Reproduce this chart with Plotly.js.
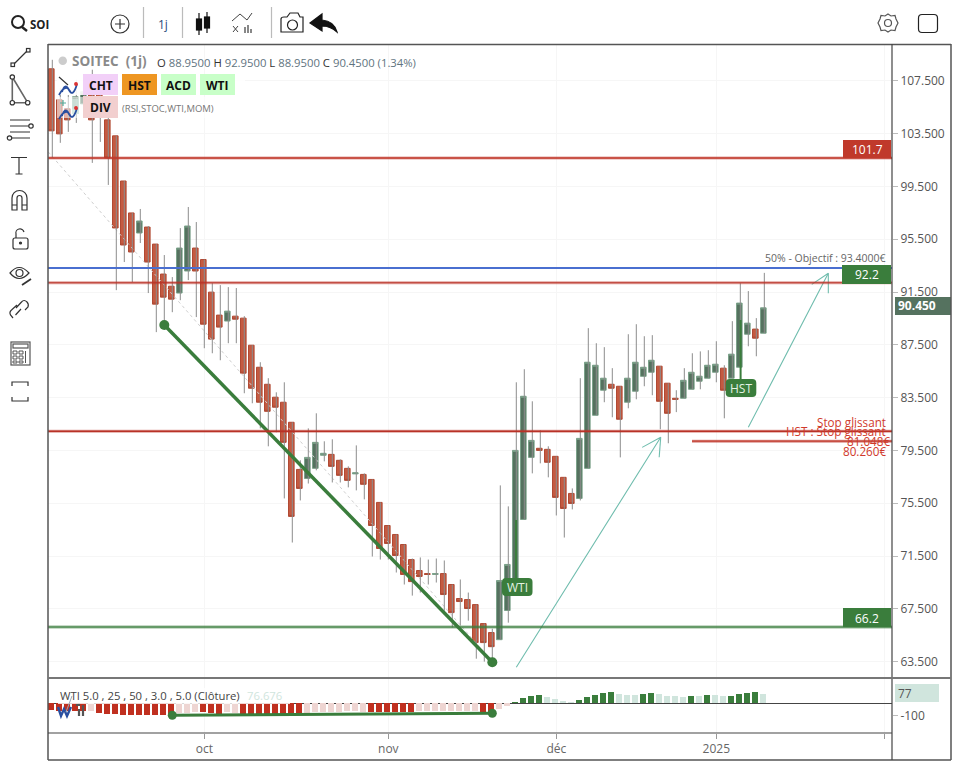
<!DOCTYPE html>
<html><head><meta charset="utf-8">
<script src="https://cdn.plot.ly/plotly-3.0.1.min.js"></script>
<style>html,body{margin:0;padding:0;background:#fff;overflow:hidden}#chart{position:absolute;left:0;top:0;width:958px;height:765px}#icons{position:absolute;left:0;top:0;pointer-events:none}</style>
</head><body>
<div id="chart"></div>
<svg id="icons" width="958" height="765" fill="none" stroke="#333" stroke-width="1.2">
<!-- top toolbar -->
<circle cx="18" cy="22" r="6" stroke-width="2" stroke="#222"/><path d="M22 27 L27 31" stroke-width="2.4" stroke="#222"/>
<circle cx="120" cy="24" r="9"/><path d="M115 24H125M120 19V29"/>
<path d="M143.500 7V38M182.500 7V38M271.500 7V38" stroke="#bbb"/>
<path d="M199 13V35M207 12V33" stroke="#111"/><rect x="196.500" y="19" width="5" height="11" fill="#111" stroke="#111"/><rect x="204.500" y="17" width="5" height="11" fill="#111" stroke="#111"/>
<path d="M232 21L240 14L247 20L252 13M233 26L238 32M238 26L233 32" stroke="#444" stroke-width="1"/><path d="M245 33V27M248 33V25M251 33V29" stroke="#888" stroke-width="2"/>
<path d="M284 17H287L290 13H298L300 17H303V32H281V19Q281 17 284 17Z" stroke="#222"/><circle cx="292.500" cy="25" r="5" stroke="#222"/>
<path d="M310 23L322 14V20Q334 21 337 32Q330 26 322 26V31Z" fill="#111" stroke="#111"/>
<circle cx="888" cy="23" r="3.500" stroke="#555"/><path d="M888 14L891 16L895 15.500L896 19L898 23L896 27L895 30.500L891 30L888 32L885 30L881 30.500L880 27L878 23L880 19L881 15.500L885 16Z" stroke="#555"/>
<rect x="918.500" y="14.500" width="19" height="18" rx="3.500" stroke="#222"/>
<!-- left toolbar -->
<path d="M13 65L28 50"/><rect x="11" y="63" width="3.500" height="3.500" fill="#fff"/><rect x="26.500" y="48.500" width="3.500" height="3.500" fill="#fff"/>
<path d="M12.300 77V102.700H27.700Z" stroke="#666" stroke-width="1.600"/><circle cx="12.300" cy="77" r="2.200" fill="#fff"/><circle cx="12.300" cy="102.700" r="2.200" fill="#fff"/><circle cx="27.700" cy="102.700" r="2.200" fill="#fff"/>
<path d="M10 120H30M10 126H29M10 132H30M12 138H30"/><circle cx="31" cy="126" r="2.200" fill="#fff"/><circle cx="9.500" cy="138" r="2.200" fill="#fff"/>
<path d="M11 157.500H27M19 157.500V174M15.500 174H22.500"/>
<path d="M12 210V198A7.500 7.500 0 0 1 27 198V210H22V198A2.500 2.500 0 0 0 17 198V210ZM12 205H17M22 205H27"/>
<rect x="13" y="238" width="15" height="11" rx="2"/><path d="M16 238V234A4 4 0 0 1 24 232"/><circle cx="20.500" cy="243" r="1" fill="#333"/>
<path d="M10 273Q19 262 29 273Q19 284 10 273Z"/><circle cx="19.500" cy="273" r="3.500"/><path d="M22 285L31 279" stroke-width="1.800"/>
<path d="M13 318L10.500 315Q9 312 11.500 310L17 305M21 309L15.500 315M25 310L28 307Q29 304 27 302Q24 299 21.500 302L16 308" />
<rect x="11" y="342" width="19" height="23" stroke="#555"/><rect x="13" y="344" width="15" height="4" stroke="#555"/><path d="M13 351H17V354H13ZM19 351H23V354H19ZM13 356H17V359H13ZM19 356H23V359H19ZM13 361H17V363H13ZM19 361H23V363H19ZM25.500 351V363" stroke="#555" stroke-width="1"/>
<path d="M12 386V382H28V386M12 397V401H28V397" stroke="#333"/>
<!-- legend icons -->
<g stroke-width="1.200"><path d="M59 77L68 85" stroke="#333"/><path d="M62 92Q65 82 69 90T77 84M59 95Q66 82 71 93" stroke="#2a4fa0" stroke-width="1.800"/><circle cx="76" cy="84" r="1.300" fill="#d33" stroke="#d33"/>
<rect x="72" y="99" width="7" height="15" fill="#d0e5dd" stroke="none" opacity=".8"/>
<path d="M63 100V106M60 103H66" stroke="#5a9" /><path d="M62 116Q65 106 69 114T77 108M59 119Q66 106 71 117" stroke="#2a4fa0" stroke-width="1.800"/><circle cx="76" cy="108" r="1.300" fill="#d33" stroke="#d33"/></g>
<!-- indicator icon -->
<path d="M58 707L61 716L64 709L67 716L71 707" stroke="#2a4fa0" stroke-width="2.400"/><path d="M66 712L72 696" stroke="#9ab" stroke-width="1"/><path d="M76 705H80M79 709V716M83 705V716" stroke="#555" stroke-width="2.200"/>
</svg>
<script>
// Candles, oldest first (SOITEC, daily)
var opens = [108.41,106.06,105.38,105.38,105.76,106.44,106.67,104.54,103.33,99.91,97.49,95.97,96.42,95.13,92.86,91.94,91.42,93.09,94.83,93.96,91.49,89.75,89.30,89.67,89.52,87.47,85.80,84.51,83.53,83.15,81.63,78.06,77.37,78.14,79.13,79.20,78.75,78.14,77.72,77.68,77.30,75.56,73.81,73.13,72.37,71.23,70.40,70.17,70.10,70.17,69.34,68.28,68.20,67.82,66.38,65.70,65.16,67.37,69.56,74.27,78.97,79.66,79.58,79.05,77.46,76.24,75.86,78.14,82.16,84.06,84.51,84.36,83.15,83.98,85.11,85.42,85.88,84.59,83.45,83.45,84.13,84.74,84.97,85.42,85.73,84.97,85.80,88.30,88.69,88.38];
var highs = [109.09,106.97,106.44,107.58,107.96,108.34,107.58,105.68,103.33,99.91,97.49,97.79,96.50,95.13,94.30,92.63,96.34,97.94,96.80,93.96,92.17,92.02,91.87,91.80,89.67,87.47,86.18,84.97,83.90,84.66,81.63,78.75,81.17,82.31,80.19,80.34,78.82,78.29,79.88,77.76,77.30,75.56,73.81,73.13,72.37,71.31,71.39,71.23,71.31,71.16,69.34,69.72,68.73,67.82,66.38,65.99,76.85,75.26,84.66,85.65,83.22,81.02,79.81,79.05,77.46,76.62,84.97,88.76,87.62,87.32,85.73,84.36,88.30,89.06,88.15,88.23,85.88,84.59,84.06,85.73,86.86,87.00,87.09,87.77,85.95,89.29,92.17,91.57,89.52,92.95];
var lows = [101.66,102.80,103.63,104.31,105.15,101.28,102.87,99.61,91.64,93.77,92.25,95.21,91.42,88.46,88.99,89.97,90.88,92.40,89.60,87.24,86.86,86.33,87.62,87.62,83.83,83.07,81.17,79.81,80.87,75.86,72.52,75.71,76.99,77.99,78.67,77.07,77.07,76.70,76.47,75.79,71.46,71.23,71.23,70.25,69.34,68.50,68.73,69.34,69.49,67.36,66.08,66.23,66.60,63.72,63.50,63.42,65.16,66.45,69.56,74.27,77.76,78.52,77.46,74.57,72.90,75.03,75.71,78.14,82.16,83.15,82.01,78.97,82.69,83.37,84.36,83.68,81.10,80.04,82.40,83.45,84.13,84.13,84.97,84.66,81.93,84.97,85.80,87.39,86.63,88.38];
var closes = [103.71,103.48,104.54,106.29,106.67,104.54,105.30,101.66,96.35,95.06,94.53,96.88,93.77,90.58,91.11,90.96,94.83,96.50,93.09,89.06,87.93,88.84,90.05,89.44,85.35,84.21,83.15,82.46,82.77,80.11,74.50,76.62,78.97,80.11,79.28,78.29,77.61,77.23,77.80,76.93,73.81,72.07,72.45,71.54,70.10,69.56,69.95,70.10,70.17,68.58,67.21,68.05,67.52,64.94,64.94,64.63,69.64,70.86,79.50,83.60,80.26,79.50,78.60,75.94,75.10,75.48,80.41,86.18,85.95,84.97,84.21,81.86,84.97,86.18,85.80,86.33,83.22,82.31,83.37,84.81,85.42,85.12,85.95,86.03,84.06,86.79,90.66,89.14,88.00,90.30];
// WTI histogram and its strong/pale flag (1 = saturated)
var wtiValues = [-55,-60,-60,-60,-62,-65,-83,-89,-92,-97,-97,-97,-97,-97,-97,-97,-83,-78,-70,-72,-83,-89,-72,-78,-86,-88,-90,-92,-90,-88,-89,-85,-78,-75,-72,-72,-70,-68,-68,-69,-72,-75,-75,-75,-75,-75,-62,-62,-64,-60,-60,-62,-62,-60,-72,-75,-45,-20,11,44,61,70,53,36,20,11,28,53,70,86,94,78,70,70,78,86,78,61,61,53,61,61,70,70,61,61,78,86,94,76.68];
var wtiStrong = [1,1,1,1,1,0,1,1,1,1,1,1,1,1,1,1,0,0,0,1,1,1,0,0,1,1,1,1,1,1,1,1,0,0,0,0,0,0,0,0,1,1,1,1,1,1,0,0,0,0,0,0,0,0,1,1,0,0,1,1,1,1,0,0,0,0,1,1,1,1,1,0,0,0,1,1,0,0,0,0,1,0,1,0,0,1,1,1,1,0];
// Overlay drawings, as [session index, price]
var trendIdx = [14,55], trendPrice = [89.0,63.45];
var guideIdx = [-0.5,54.6], guidePrice = [102.11,63.77];
var divIdx = [15,55], divValue = [-100,-83];
var arrow1Idx = [58,76.05,73.73,null,76.05,75.86], arrow1Price = [63.07,80.5,79.73,null,80.5,78.98];
var arrow2Idx = [87,97,94.93,null,97,97], arrow2Price = [81.25,92.92,92.08,null,92.92,91.4];
// Levels
var levelResist = 101.65, levelObjectif = 93.32, levelHigh = 92.2, levelStop = 80.95, levelStop2 = 80.2, levelSupport = 66.12;
// Axes labels
var priceTicks = [107.5,103.5,99.5,95.5,91.5,87.5,83.5,79.5,75.5,71.5,67.5,63.5];
var priceTickText = ['107.500','103.500','99.500','95.500','91.500','87.500','83.500','79.500','75.500','71.500','67.500','63.500'];
var monthIdx = [19,42,63,83,104], monthText = ['oct','nov','déc','2025',''];

var idx = opens.map(function(_,i){return i;});
var bodyIdx = idx.map(function(i){return i-0.125;});
var wickX=[], wickY=[];
idx.forEach(function(i){wickX.push(i,i,null);wickY.push(lows[i],highs[i],null);});

var RED='#c55a41', REDB='#b04a34', GRN='#55725f', GRNB='#7ba28a', DG='#3a7d3c';
var traces=[
 {type:'scatter',mode:'lines',x:guideIdx,y:guidePrice,line:{color:'#cfcfcf',width:1,dash:'dot'},hoverinfo:'skip'},
 {type:'scatter',mode:'lines',x:wickX,y:wickY,line:{color:'#8c8c8c',width:1},hoverinfo:'skip',connectgaps:false},
 {type:'candlestick',x:bodyIdx,open:opens,close:closes,
  high:opens.map(function(o,i){return Math.max(o,closes[i]);}),
  low:opens.map(function(o,i){return Math.min(o,closes[i]);}),
  increasing:{line:{color:GRNB,width:1},fillcolor:GRN},
  decreasing:{line:{color:REDB,width:1},fillcolor:RED},whiskerwidth:0},
 {type:'scatter',mode:'lines+markers',x:trendIdx,y:trendPrice,line:{color:DG,width:3.5},marker:{color:DG,size:10}},
 {type:'scatter',mode:'lines',x:arrow1Idx,y:arrow1Price,line:{color:'#70bdae',width:1.1}},
 {type:'scatter',mode:'lines',x:arrow2Idx,y:arrow2Price,line:{color:'#70bdae',width:1.1}},
 {type:'bar',x:bodyIdx,y:wtiValues,yaxis:'y2',width:0.75,
  marker:{color:wtiValues.map(function(v,i){return v<0?(wtiStrong[i]?'#c03020':'#eed5d2'):(wtiStrong[i]?'#3a7d3c':'#d0e5dd');}),line:{width:0}}},
 {type:'scatter',mode:'lines+markers',x:divIdx,y:divValue,yaxis:'y2',line:{color:DG,width:3},marker:{color:DG,size:9}}
];
var W=844,H=689;
function px(x){return (x-48)/W;} function py(y){return (733-y)/H;}
function rect(x0,y0,x1,y1,c,o){return {type:'rect',xref:'paper',yref:'paper',x0:px(x0),x1:px(x1),y0:py(y0),y1:py(y1),fillcolor:c,opacity:o==null?1:o,line:{width:0}};}
function seg(x0,y0,x1,y1,c,w){return {type:'line',xref:'paper',yref:'paper',x0:px(x0),x1:px(x1),y0:py(y0),y1:py(y1),line:{color:c,width:w}};}
function level(v,c,w,x0){return {type:'line',xref:x0==null?'paper':'x',yref:'y',x0:x0==null?0:x0,x1:x0==null?1:104.96,y0:v,y1:v,line:{color:c,width:w}};}
function rr(x0,y0,x1,y1,r,c){var a=px(x0),b=px(x1),t=py(y0),u=py(y1),rx=r/W,ry=r/H;
 return {type:'path',xref:'paper',yref:'paper',fillcolor:c,line:{width:0},
 path:'M'+(a+rx)+','+t+' L'+(b-rx)+','+t+' Q'+b+','+t+' '+b+','+(t-ry)+' L'+b+','+(u+ry)+' Q'+b+','+u+' '+(b-rx)+','+u+' L'+(a+rx)+','+u+' Q'+a+','+u+' '+a+','+(u+ry)+' L'+a+','+(t-ry)+' Q'+a+','+t+' '+(a+rx)+','+t+' Z'};}
var stopStart=(692-52.3)/8;
var shapes=[
 level(levelResist,'rgba(190,50,40,.45)',3),level(levelResist,'#c0392b',1.4),
 level(levelObjectif,'#4a6fd0',2),
 level(levelHigh,'rgba(190,50,40,.45)',3),level(levelHigh,'#b83227',1),
 level(levelStop,'rgba(190,50,40,.45)',3),level(levelStop,'#b83227',1.3),
 level(levelStop2,'rgba(190,50,40,.5)',3,stopStart),level(levelStop2,'#c0392b',1.3,stopStart),
 level(levelSupport,'rgba(58,125,60,.55)',3),level(levelSupport,'#3a7d3c',1.2),
 rect(843,140,891,158,'#c0392b'),rect(842,265,891,284,DG),rect(843,608,891,627,DG),
 seg(516,520,516,578,DG,2),seg(740.6,320,740.6,379,DG,2),
 rr(502,578,532.500,596,4,DG),rr(725.700,379,756.300,397,4,DG),
 rect(57,74,245,95,'#fff',0.9),rect(57,97,245,118,'#fff',0.55),
 rect(83,74,118,95,'#f2d0f8'),rect(122,74,157,95,'#ee9622'),rect(161,74,196,95,'#c8ffc8'),rect(200,74,235,95,'#c8ffc8'),rect(83,96,118,118,'#f2cfcf'),
 {type:'circle',xref:'paper',yref:'paper',x0:px(58.5),x1:px(67),y0:py(56.5),y1:py(65),fillcolor:'#cccccc',line:{width:0}},
 rect(58,688,290,704,'#fff',0.8),
 rect(895,297,951,315,GRN),
 rect(895,684,939,702,'#d0e5dd'),
 // frame
 seg(48,44.500,951,44.500,'#555',1.5),seg(48,44,48,760,'#555',1.5),seg(951,44,951,760,'#555',1.5),seg(48,760,951,760,'#555',1.5),
 seg(892,44,892,760,'#444',1.2),seg(48,678,951,678,'#777',2.2),seg(48,733,892,733,'#444',1.2)
];
function txt(x,y,t,o){var a={xref:'paper',yref:'paper',x:px(x),y:py(y),text:t,showarrow:false,xanchor:(o&&o.a)||'left',yanchor:'middle',font:{family:'Open Sans, sans-serif',size:(o&&o.s)||12,color:(o&&o.c)||'#555'},borderpad:0};return a;}
function vals(s){return '<span style="color:#5f7480">'+s+'</span>';}
var annotations=[
 txt(29,24.5,'<b>SOI</b>',{s:11.5,c:'#222'}),
 txt(163,24.5,'1j',{s:12,c:'#2b4a7a',a:'center'}),
 txt(71,61,'<b>SOITEC  (1j)</b>',{s:13.5,c:'#8a8a8a'}),
 txt(156,62,'O '+vals('88.9500')+' H '+vals('92.9500')+' L '+vals('88.9500')+' C '+vals('90.4500')+' '+vals('(1.34%)'),{s:11.3,c:'#333'}),
 txt(100.5,85.5,'<b>CHT</b>',{s:12,c:'#111',a:'center'}),txt(139.5,85.5,'<b>HST</b>',{s:12,c:'#111',a:'center'}),
 txt(178.5,85.5,'<b>ACD</b>',{s:12,c:'#111',a:'center'}),txt(217.5,85.5,'<b>WTI</b>',{s:12,c:'#111',a:'center'}),
 txt(100.5,107.5,'<b>DIV</b>',{s:12,c:'#111',a:'center'}),
 txt(121,108,'(RSI,STOC,WTI,MOM)',{s:9.5,c:'#777'}),
 txt(867,149,'101.7',{s:12,c:'#fff',a:'center'}),txt(867,274.500,'92.2',{s:12,c:'#fff',a:'center'}),txt(867,618,'66.2',{s:12,c:'#fff',a:'center'}),
 txt(887,258,'50% - Objectif : 93.4000€',{s:10.5,c:'#666',a:'right'}),
 txt(887,421.500,'Stop glissant',{s:11.7,c:'#d0392b',a:'right'}),
 txt(887,431,'HST : Stop glissant',{s:11.7,c:'#d0392b',a:'right'}),
 txt(891,440.500,'81.048€',{s:11.7,c:'#d0392b',a:'right'}),
 txt(887,451,'80.260€',{s:11.7,c:'#d0392b',a:'right'}),
 txt(517,587,'WTI',{s:12,c:'#e4f2e4',a:'center'}),txt(741,388,'HST',{s:12,c:'#e4f2e4',a:'center'}),
 txt(897,306,'<b>90.450</b>',{s:12,c:'#fff'}),
 txt(897,693,'77',{s:12,c:'#555'}),
 txt(59,695,'WTI 5.0 , 25 , 50 , 3.0 , 5.0 (Clôture)',{s:11.3,c:'#444'}),
 txt(246,695.500,'76.676',{s:11.3,c:'#d0e5dd'})
];
var layout={
 width:958,height:765,paper_bgcolor:'#fff',plot_bgcolor:'#fff',showlegend:false,dragmode:false,
 margin:{l:48,r:66,t:44,b:32,pad:0},bargap:0,boxgap:0.3,boxgroupgap:0,
 xaxis:{domain:[0,1],range:[-0.5375,104.96],anchor:'y2',tickmode:'array',tickvals:monthIdx,ticktext:monthText,ticks:'outside',ticklen:5,tickcolor:'#999',tickfont:{family:'Open Sans, sans-serif',size:12,color:'#666'},showgrid:true,gridcolor:'#f6f6f6',zeroline:false,showline:false,rangeslider:{visible:false}},
 yaxis:{domain:[56/689,1],range:[62.333,110.288],side:'right',anchor:'x',tickmode:'array',tickvals:priceTicks,ticktext:priceTickText,ticks:'outside',ticklen:5,tickcolor:'#bbb',tickfont:{family:'Open Sans, sans-serif',size:12,color:'#555'},showgrid:true,gridcolor:'#f6f6f6',zeroline:false,showline:false},
 yaxis2:{domain:[0,54/689],range:[-247.5,202.5],side:'right',anchor:'x',tickmode:'array',tickvals:[-100],ticktext:['-100'],ticks:'outside',ticklen:5,tickcolor:'#bbb',tickfont:{family:'Open Sans, sans-serif',size:12,color:'#555'},showgrid:false,zeroline:true,zerolinecolor:'#444',zerolinewidth:1,showline:false},
 shapes:shapes,annotations:annotations
};
Plotly.newPlot('chart',traces,layout,{staticPlot:true,displayModeBar:false});
</script>
</body></html>
